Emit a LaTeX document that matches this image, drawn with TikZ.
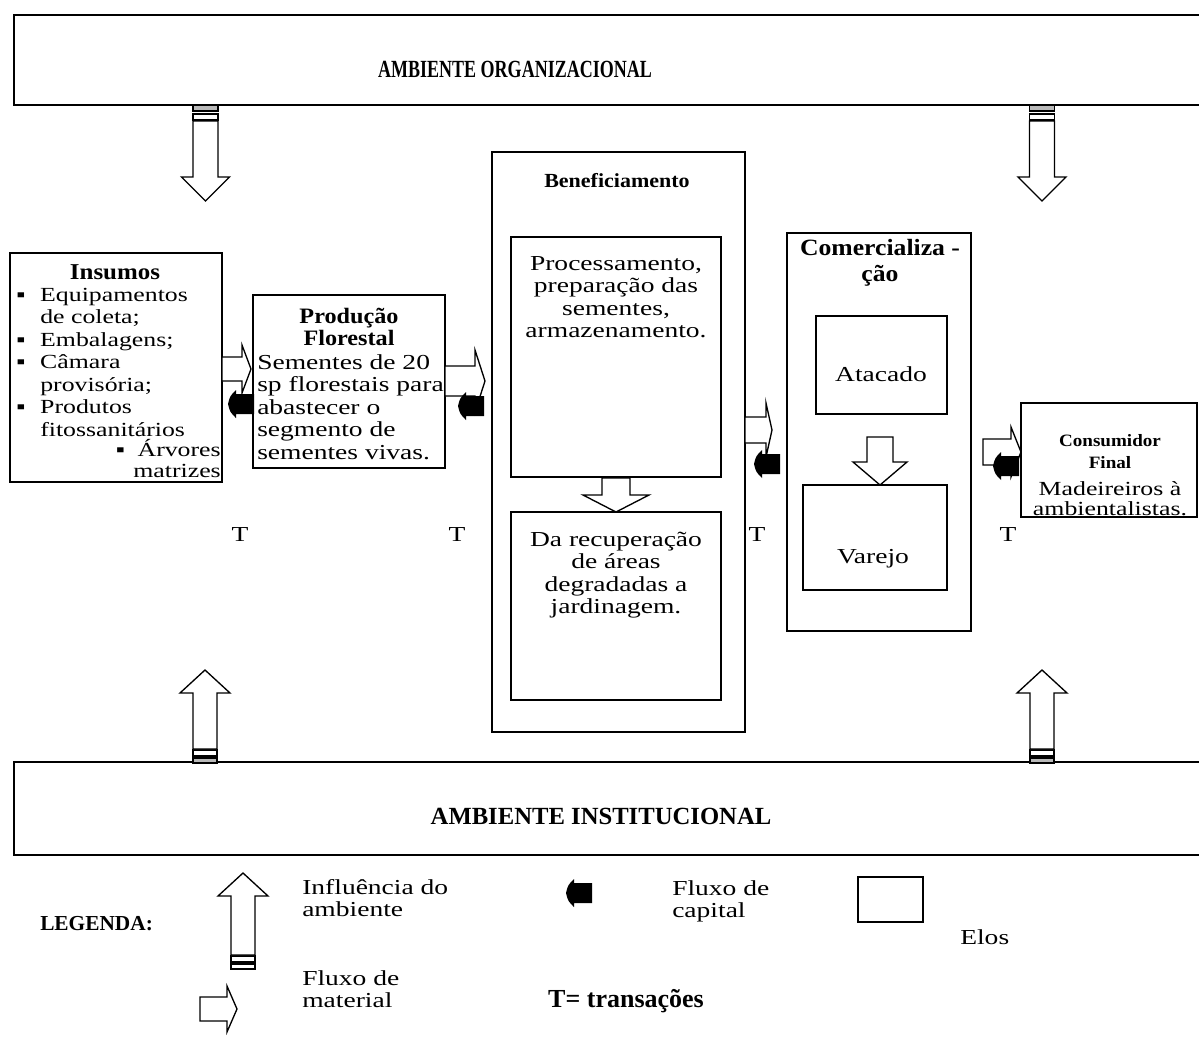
\documentclass[tikz,border=0pt]{standalone}
\usepackage{graphicx}
\usepackage{fontspec}
\setmainfont{Liberation Serif}
\newfontfamily\gar{Liberation Serif}[FakeStretch=1.29]
\newfontfamily\garb{Liberation Serif}[FakeStretch=1.1]
\newcommand\BoxNode[5]{\node[box, anchor=north west, minimum width={(#4-#2)*0.75pt}, minimum height={(#5-#3)*0.75pt}] (#1) at (#2,#3) {};}
\newcommand\WR[6]{\draw[warr] ({#1},{#2-#5}) -- ({#3-#4},{#2-#5}) -- ({#3-#4},{#2-#6}) -- ({#3},{#2}) -- ({#3-#4},{#2+#6}) -- ({#3-#4},{#2+#5}) -- ({#1},{#2+#5}) -- cycle;}
\newcommand\WD[6]{\draw[warr] ({#1-#5},{#2}) -- ({#1-#5},{#3-#4}) -- ({#1-#6},{#3-#4}) -- ({#1},{#3}) -- ({#1+#6},{#3-#4}) -- ({#1+#5},{#3-#4}) -- ({#1+#5},{#2}) -- cycle;}
\newcommand\BL[2]{\fill ({#1},{#2}) .. controls ({#1+2},{#2-8}) .. ({#1+8},{#2-14}) -- ({#1+8},{#2-10}) -- ({#1+26},{#2-10}) -- ({#1+26},{#2+10}) -- ({#1+8},{#2+10}) -- ({#1+8},{#2+14}) .. controls ({#1+2},{#2+8}) .. ({#1},{#2}) -- cycle;}
\newcommand\ENVD[3]{%
  \filldraw[fill=gray!55, line width=0.8pt] ({#1-12.5},{#2}) rectangle ({#1+12.5},{#2+6});
  \draw[fill=white, line width=0.8pt] ({#1-12.5},{#2+9}) rectangle ({#1+12.5},{#2+15});
  \draw[warr] ({#1-12.5},{#2+16}) -- ({#1-12.5},{#3-24}) -- ({#1-24},{#3-24}) -- ({#1},{#3}) -- ({#1+24},{#3-24}) -- ({#1+12.5},{#3-24}) -- ({#1+12.5},{#2+16}) -- cycle;}
\newcommand\ENVU[4]{%
  \filldraw[fill=#4, line width=0.8pt] ({#1-12},{#2-5}) rectangle ({#1+12},{#2});
  \draw[fill=white, line width=0.8pt] ({#1-12},{#2-13}) rectangle ({#1+12},{#2-7});
  \draw[warr] ({#1-12},{#2-14}) -- ({#1-12},{#3+23}) -- ({#1-25},{#3+23}) -- ({#1},{#3}) -- ({#1+25},{#3+23}) -- ({#1+12},{#3+23}) -- ({#1+12},{#2-14}) -- cycle;}
\begin{document}
\begin{tikzpicture}[x=0.75pt,y=-0.75pt,
  box/.style={draw, line width=1.1pt, inner sep=0pt, outer sep=0pt, fill=white},
  envbox/.style={box, line width=1.4pt},
  warr/.style={draw, fill=white, line width=1pt, line join=miter},
  env/.style={font=\bfseries\fontsize{18.5}{20}\selectfont, inner sep=0pt},
  ttl/.style={font=\garb\bfseries\fontsize{16.5}{16.9}\selectfont, inner sep=0pt, align=center},
  txt/.style={font=\gar\fontsize{16}{16.9}\selectfont, inner sep=0pt},
  ins/.style={font=\gar\fontsize{15}{16.9}\selectfont, inner sep=0pt},
  small/.style={font=\gar\fontsize{15}{15.3}\selectfont, inner sep=0pt, align=center}]
\useasboundingbox (0,0) rectangle (1199,1036);
% environment boxes
\node[envbox, anchor=north west, minimum width={1201*0.75pt}, minimum height={90*0.75pt}] (org) at (14,15) {};
\node[envbox, anchor=north west, minimum width={1201*0.75pt}, minimum height={93*0.75pt}] (inst) at (14,762) {};
\node[env, anchor=base] (orgtxt) at (515,77) {\scalebox{0.73}[1]{AMBIENTE ORGANIZACIONAL}};
\node[env, anchor=base] (insttxt) at (601,824) {AMBIENTE INSTITUCIONAL};
\ENVD{205.5}{105}{201}
\ENVD{1042}{105}{201}
\ENVU{205}{763}{670}{gray!55}
\ENVU{1042}{763}{670}{gray!55}
% chain boxes
\BoxNode{ins}{10}{253}{222}{482}
\BoxNode{prod}{253}{295}{445}{468}
\BoxNode{benef}{492}{152}{745}{732}
\BoxNode{proc}{511}{237}{721}{477}
\BoxNode{recup}{511}{512}{721}{700}
\BoxNode{comerc}{787}{233}{971}{631}
\BoxNode{atac}{816}{316}{947}{414}
\BoxNode{varejo}{803}{485}{947}{590}
\BoxNode{cons}{1021}{403}{1197}{517}
% flows
\WR{222}{369}{251}{9}{12}{24}
\BL{228}{404}
\WR{445}{381}{485}{10}{15}{31}
\BL{458}{406}
\WR{745}{430}{772}{6}{13}{27}
\BL{754}{464}
\WR{983}{452}{1021}{10}{13}{25}
\BL{993}{466}
\WD{616}{478}{512}{17}{14}{33}
\WD{880}{437}{485}{23}{13}{27}
% texts
\node[ttl, font=\garb\bfseries\fontsize{17}{18}\selectfont, anchor=base] (instl) at (115,279) {Insumos};
\node[ins, anchor=north west, align=left] (insl) at (16,285.25) {\strut\makebox[18pt][l]{▪}Equipamentos\\\hspace*{18pt}de coleta;\\\makebox[18pt][l]{▪}Embalagens;\\\makebox[18pt][l]{▪}Câmara\\\hspace*{18pt}provisória;\\\makebox[18pt][l]{▪}Produtos\\\hspace*{18pt}fitossanitários};
\node[ins, anchor=base east] (arv) at (221,456) {Árvores};
\node[ins, anchor=base east] (bul) at ([xshift=-9pt]arv.base west) {▪};
\node[ins, anchor=base east] (matr) at (221,477) {matrizes};
\node[ttl, anchor=north] (prodt) at (349,307.25) {\strut Produção\\Florestal};
\node[txt, anchor=north west, align=left] (prodl) at (257,353.25) {\strut Sementes de 20\\sp florestais para\\abastecer o\\segmento de\\sementes vivas.};
\node[ttl, font=\garb\bfseries\fontsize{15}{17}\selectfont, anchor=base] (beneft) at (617,187) {Beneficiamento};
\node[txt, anchor=north, align=center] (procl) at (616,254.25) {\strut Processamento,\\preparação das\\sementes,\\armazenamento.};
\node[txt, anchor=north, align=center] (recupl) at (616,530.25) {\strut Da recuperação\\de áreas\\degradadas a\\jardinagem.};
\node[ttl, font=\garb\bfseries\fontsize{17.5}{19.5}\selectfont, anchor=north] (comerct) at (880,237.35) {\strut Comercializa -\\ção};
\node[txt, anchor=base] (atacl) at (881,381) {Atacado};
\node[txt, anchor=base] (varejol) at (873,563) {Varejo};
\node[small, font=\garb\bfseries\fontsize{13}{16.5}\selectfont, anchor=north] (const) at (1110,430.6) {\strut Consumidor\\Final};
\node[small, anchor=north] (consl) at (1110,480.7) {\strut Madeireiros à\\ambientalistas.};
\node[txt, anchor=base] (t1) at (240,541) {T};
\node[txt, anchor=base] (t2) at (457,541) {T};
\node[txt, anchor=base] (t3) at (757,541) {T};
\node[txt, anchor=base] (t4) at (1008,541) {T};
% legend
\node[env, font=\bfseries\fontsize{16}{18}\selectfont, anchor=base west] (leg) at (40,930) {LEGENDA:};
\ENVU{243}{969}{873}{white}
\node[txt, anchor=north west, align=left] (leginf) at (302,878.25) {\strut Influência do\\ambiente};
\WR{200}{1009}{237}{10}{12}{23}
\node[txt, anchor=north west, align=left] (legmat) at (302,969.25) {\strut Fluxo de\\material};
\BL{566}{893}
\node[txt, anchor=north west, align=left] (legcap) at (672,879.25) {\strut Fluxo de\\capital};
\BoxNode{elos}{858}{877}{923}{922}
\node[txt, anchor=base west] (elost) at (960,944) {Elos};
\node[font=\bfseries\fontsize{19.5}{22}\selectfont, inner sep=0pt, anchor=base] (ttr) at (626,1007) {T= transações};
\end{tikzpicture}
\end{document}
